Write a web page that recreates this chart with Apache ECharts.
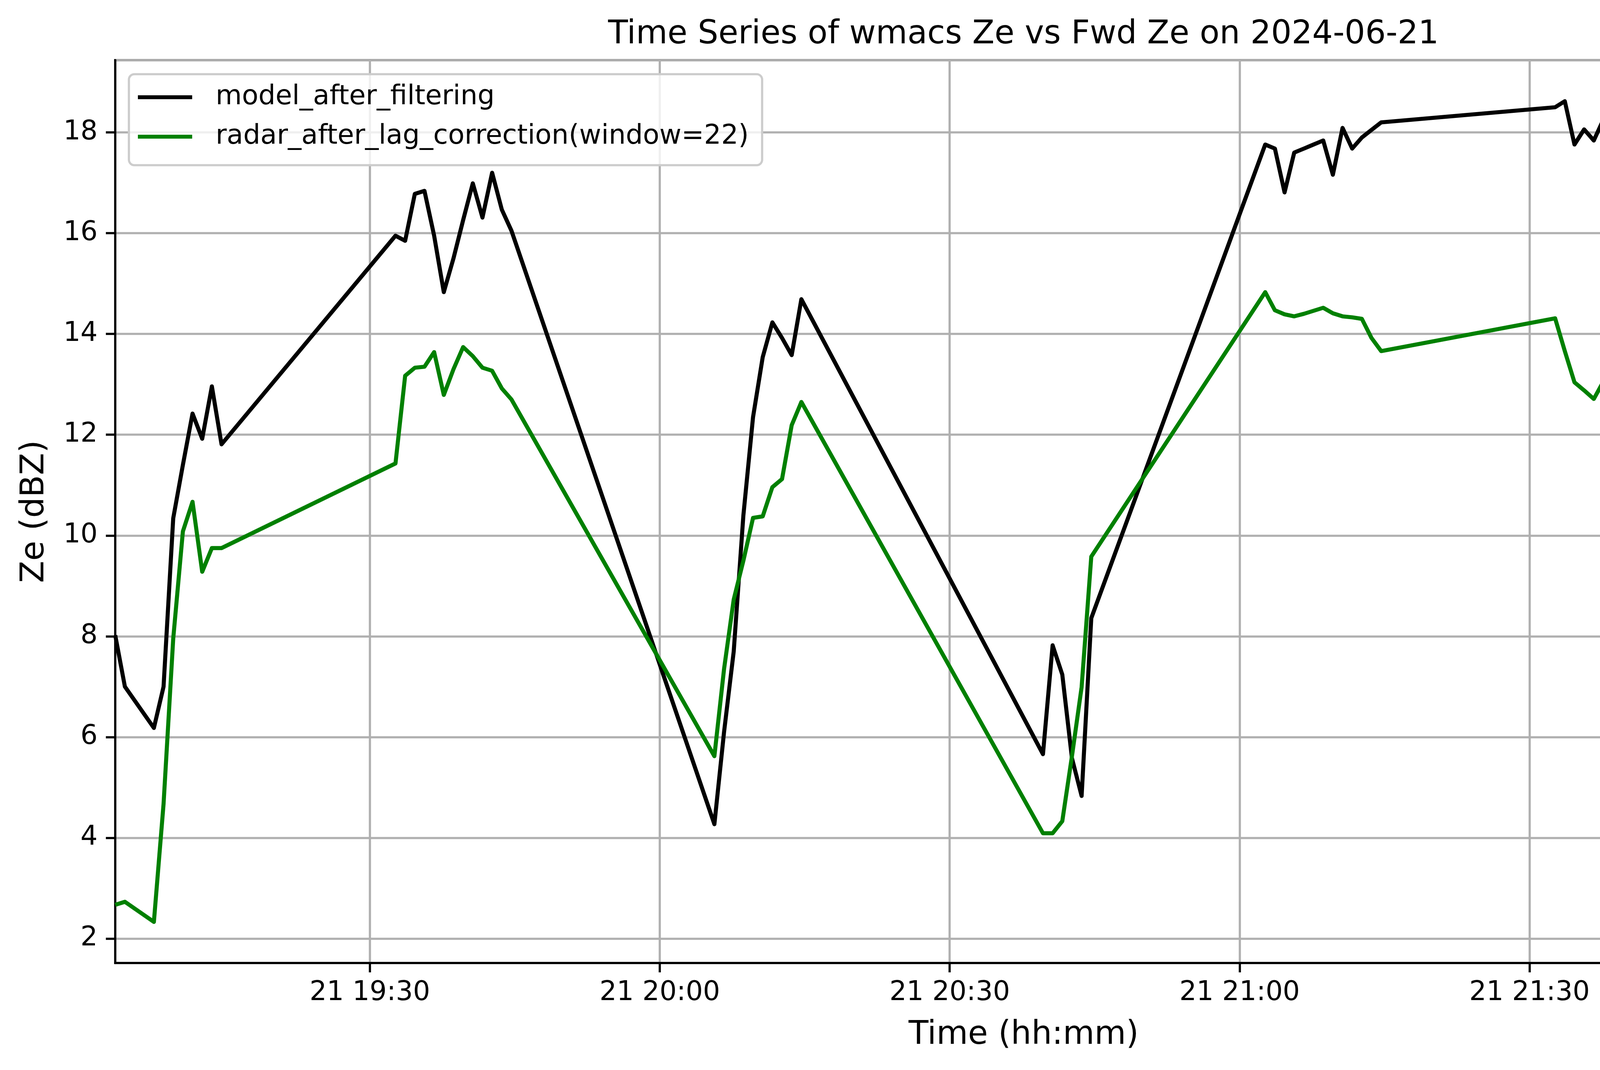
<!DOCTYPE html>
<html>
<head>
<meta charset="utf-8">
<title>Time Series of wmacs Ze vs Fwd Ze</title>
<script src="https://cdn.jsdelivr.net/npm/echarts@6.0.0/dist/echarts.min.js"></script>
<style>
  html, body { margin: 0; padding: 0; background: #fff; }
  #chart { width: 4995px; height: 2740px; }
</style>
</head>
<body>
<div id="chart"></div>
<script>
// sample times (2024-06-21, one sample per minute, gaps where no data)
const day = '2024-06-21'
const times = [
  '19:03:39', '19:04:39', '19:07:39', '19:08:39', '19:09:39', '19:10:39', '19:11:39', '19:12:39', '19:13:39', '19:14:39',
  '19:32:39', '19:33:39', '19:34:39', '19:35:39', '19:36:39', '19:37:39', '19:38:39', '19:39:39', '19:40:39', '19:41:39', '19:42:39', '19:43:39', '19:44:39',
  '20:05:39', '20:06:39', '20:07:39', '20:08:39', '20:09:39', '20:10:39', '20:11:39', '20:12:39', '20:13:39', '20:14:39',
  '20:39:39', '20:40:39', '20:41:39', '20:42:39', '20:43:39', '20:44:39',
  '21:02:39', '21:03:39', '21:04:39', '21:05:39', '21:06:39', '21:07:39', '21:08:39', '21:09:39', '21:10:39', '21:11:39', '21:12:39', '21:13:39', '21:14:39',
  '21:32:39', '21:33:39', '21:34:39', '21:35:39', '21:36:39', '21:37:39', '21:38:39', '21:39:39', '21:40:39', '21:41:39', '21:42:39', '21:43:39', '21:44:39',
  '22:02:39', '22:03:39', '22:04:39', '22:05:39', '22:06:39', '22:07:39', '22:08:39', '22:09:39', '22:10:39', '22:11:39'
]

// model Ze (dBZ)
const modelZe = [
  8.02, 7.0, 6.18, 7.0, 10.34, 11.4, 12.42, 11.92, 12.96, 11.81,
  15.95, 15.85, 16.78, 16.84, 15.95, 14.83, 15.5, 16.26, 16.99, 16.31, 17.2, 16.47, 16.05,
  4.27, 6.1, 7.7, 10.4, 12.35, 13.54, 14.23, 13.92, 13.58, 14.69,
  5.66, 7.82, 7.24, 5.58, 4.83, 8.36,
  17.76, 17.68, 16.81, 17.6, 17.68, 17.76, 17.84, 17.16, 18.09, 17.68, 17.9, 18.05, 18.2,
  18.5, 18.62, 17.76, 18.06, 17.84, 18.26, 18.24, 17.86, 18.36, 18.49, 17.17, 15.95, 16.13,
  15.67, 14.52, 11.94, 12.32, 10.31, 14.26, 13.13, 12.91, 9.95, 12.52
]

// radar Ze after lag correction (dBZ)
const radarZe = [
  2.67, 2.73, 2.33, 4.67, 7.95, 10.08, 10.67, 9.28, 9.75, 9.75,
  11.43, 13.17, 13.33, 13.35, 13.64, 12.79, 13.3, 13.74, 13.56, 13.33, 13.27, 12.92, 12.7,
  5.62, 7.35, 8.73, 9.5, 10.35, 10.38, 10.96, 11.12, 12.19, 12.65,
  4.09, 4.09, 4.33, 5.62, 6.99, 9.58,
  14.83, 14.47, 14.39, 14.35, 14.4, 14.46, 14.52, 14.41, 14.35, 14.33, 14.3, 13.92, 13.66,
  14.31, 13.66, 13.04, 12.88, 12.71, 13.06, 12.64, 12.59, 13.13, 13.07, 10.54, 10.82, 10.68,
  7.17, 6.49, 5.52, 5.63, 5.7, 5.38, 5.47, 5.21, 4.83, 3.89
]

const seriesNames = ['model_after_filtering', 'radar_after_lag_correction(window=22)']
const yRange = [1.515, 19.435]

const font = 'DejaVu Sans'
const toMs = t => new Date(day + 'T' + t).getTime()
const pairs = vals => times.map((t, i) => [toMs(t), vals[i]])

const chart = echarts.init(document.getElementById('chart'), null, { renderer: 'canvas', devicePixelRatio: 1 })

chart.setOption({
  animation: false,
  backgroundColor: '#fff',
  title: {
    text: 'Time Series of wmacs Ze vs Fwd Ze on 2024-06-21',
    left: 2620, // centre of the plot area
    textAlign: 'center',
    top: 48,
    padding: 0,
    textStyle: { fontFamily: font, fontSize: 83, fontWeight: 'normal', color: '#000' }
  },
  legend: {
    orient: 'vertical',
    left: 330,
    top: 190,
    data: seriesNames,
    icon: 'rect',
    itemWidth: 139,
    itemHeight: 10,
    itemGap: 21,
    padding: [19, 34, 33, 23],
    backgroundColor: 'rgba(255,255,255,0.8)',
    borderColor: '#cccccc',
    borderWidth: 5.6,
    borderRadius: 14,
    textStyle: { fontFamily: font, fontSize: 69, lineHeight: 80, color: '#000', padding: [0, 0, 0, 55] }
  },
  grid: {
    left: 295,
    top: 154,
    width: 4651,
    height: 2312,
    show: true,
    borderColor: '#000',
    borderWidth: 5.6,
    backgroundColor: 'transparent'
  },
  xAxis: {
    type: 'time',
    min: toMs(times[0]),
    max: toMs(times[times.length - 1]),
    splitNumber: 6,
    name: 'Time (hh:mm)',
    nameLocation: 'middle',
    nameGap: 144,
    nameTextStyle: { fontFamily: font, fontSize: 83, color: '#000' },
    axisLine: { show: true, lineStyle: { color: '#000', width: 5.6 } },
    axisTick: { show: true, length: 24, lineStyle: { color: '#000', width: 5.6 } },
    axisLabel: {
      formatter: '{dd} {HH}:{mm}',
      margin: 43,
      fontFamily: font,
      fontSize: 69,
      color: '#000',
      showMinLabel: false,
      showMaxLabel: false
    },
    splitLine: { show: true, lineStyle: { color: '#b0b0b0', width: 5.6 } }
  },
  yAxis: {
    type: 'value',
    min: yRange[0],
    max: yRange[1],
    splitNumber: 9,
    name: 'Ze (dBZ)',
    nameLocation: 'middle',
    nameRotate: 90,
    nameGap: 164,
    nameTextStyle: { fontFamily: font, fontSize: 83, color: '#000' },
    axisLine: { show: true, lineStyle: { color: '#000', width: 5.6 } },
    axisTick: { show: true, length: 24, lineStyle: { color: '#000', width: 5.6 } },
    axisLabel: {
      margin: 45,
      fontFamily: font,
      fontSize: 69,
      color: '#000',
      showMinLabel: false,
      showMaxLabel: false
    },
    splitLine: { show: true, lineStyle: { color: '#b0b0b0', width: 5.6 } }
  },
  series: [
    {
      name: seriesNames[0],
      type: 'line',
      data: pairs(modelZe),
      symbol: 'none',
      color: '#000000',
      lineStyle: { color: '#000000', width: 10.4, join: 'round' }
    },
    {
      name: seriesNames[1],
      type: 'line',
      data: pairs(radarZe),
      symbol: 'none',
      color: '#008000',
      lineStyle: { color: '#008000', width: 10.4, join: 'round' }
    }
  ]
})
</script>
</body>
</html>
